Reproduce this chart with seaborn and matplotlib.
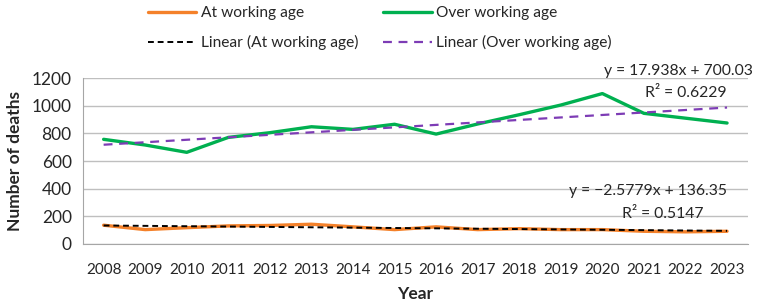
import numpy as np
import pandas as pd
import matplotlib
matplotlib.use('Agg')
import matplotlib.pyplot as plt
import seaborn as sns

years = list(range(2008, 2024))
at_working_age = [136, 104, 118, 131, 134, 143, 124, 104, 124, 104, 111, 104, 104, 92, 88, 92]
over_working_age = [757, 716, 663, 771, 805, 848, 829, 866, 795, 868, 935, 1005, 1088, 945, 910, 875]

# trendline coefficients as printed on the chart (x = 1..16)
trend_at = (-2.5779, 136.35, 0.5147)
trend_over = (17.938, 700.03, 0.6229)

sns.set_style('white')
plt.rcParams['font.family'] = ['Lato', 'DejaVu Sans']

df = pd.DataFrame({'Year': years, 'At working age': at_working_age,
                   'Over working age': over_working_age})

fig = plt.figure(figsize=(7.6, 3.05), dpi=100)
ax = fig.add_axes([0.109, 0.2, 0.875, 0.544])

sns.lineplot(data=df, x='Year', y='At working age', ax=ax, color='#F4812A',
             linewidth=2.4, label='At working age')
sns.lineplot(data=df, x='Year', y='Over working age', ax=ax, color='#00B050',
             linewidth=2.4, label='Over working age')

xs = np.arange(1, len(years) + 1)
yr = np.array(years)
ax.plot(yr, trend_at[0] * xs + trend_at[1], color='black', linestyle=(0, (3, 2)),
        linewidth=1.4, label='Linear (At working age)')
ax.plot(yr, trend_over[0] * xs + trend_over[1], color='#7D3CB5', linestyle=(0, (4, 3)),
        linewidth=1.6, label='Linear (Over working age)')

ax.set_xlim(years[0] - 0.5, years[-1] + 0.5)
ax.set_ylim(0, 1200)
ax.set_yticks(range(0, 1201, 200))
ax.set_xticks(years)
ax.set_xticks(np.arange(years[0] - 0.5, years[-1] + 1), minor=True)
ax.tick_params(axis='x', which='major', length=0, labelsize=11, pad=14)
ax.tick_params(axis='x', which='minor', length=5, color='#A6A6A6', direction='out')
ax.tick_params(axis='y', length=5, color='#A6A6A6', labelsize=12.5, direction='out', pad=3)
ax.yaxis.grid(True, color='#BFBFBF', linewidth=1)
ax.set_axisbelow(True)
for s in ['top', 'right']:
    ax.spines[s].set_visible(False)
for s in ['left', 'bottom']:
    ax.spines[s].set_color('#A6A6A6')

ax.set_xlabel('Year', fontsize=12.5, fontweight='bold', labelpad=6)
ax.set_ylabel('Number of deaths', fontsize=12.5, fontweight='bold', labelpad=6)

ax.text(2023.62, 1203, f'y = {trend_over[0]}x + {trend_over[1]:.2f}', fontsize=11.3,
        ha='right', va='bottom')
ax.text(2022.0, 1045, f'R² = {trend_over[2]}', fontsize=11.3, ha='center', va='bottom')
ax.text(2023.0, 332, f'y = −{abs(trend_at[0])}x + {trend_at[1]:.2f}', fontsize=11.3,
        ha='right', va='bottom')
ax.text(2021.45, 165, f'R² = {trend_at[2]}', fontsize=11.3, ha='center', va='bottom')

handles, labels = ax.get_legend_handles_labels()
order = [0, 2, 1, 3]
ax.legend_.remove()
fig.legend([handles[i] for i in order], [labels[i] for i in order], ncol=2,
           loc='upper center', bbox_to_anchor=(0.5, 1.025), frameon=False,
           fontsize=11.2, handlelength=3.1, columnspacing=1.6, labelspacing=0.95,
           handletextpad=0.3)

fig.savefig('out.png', dpi=100)
